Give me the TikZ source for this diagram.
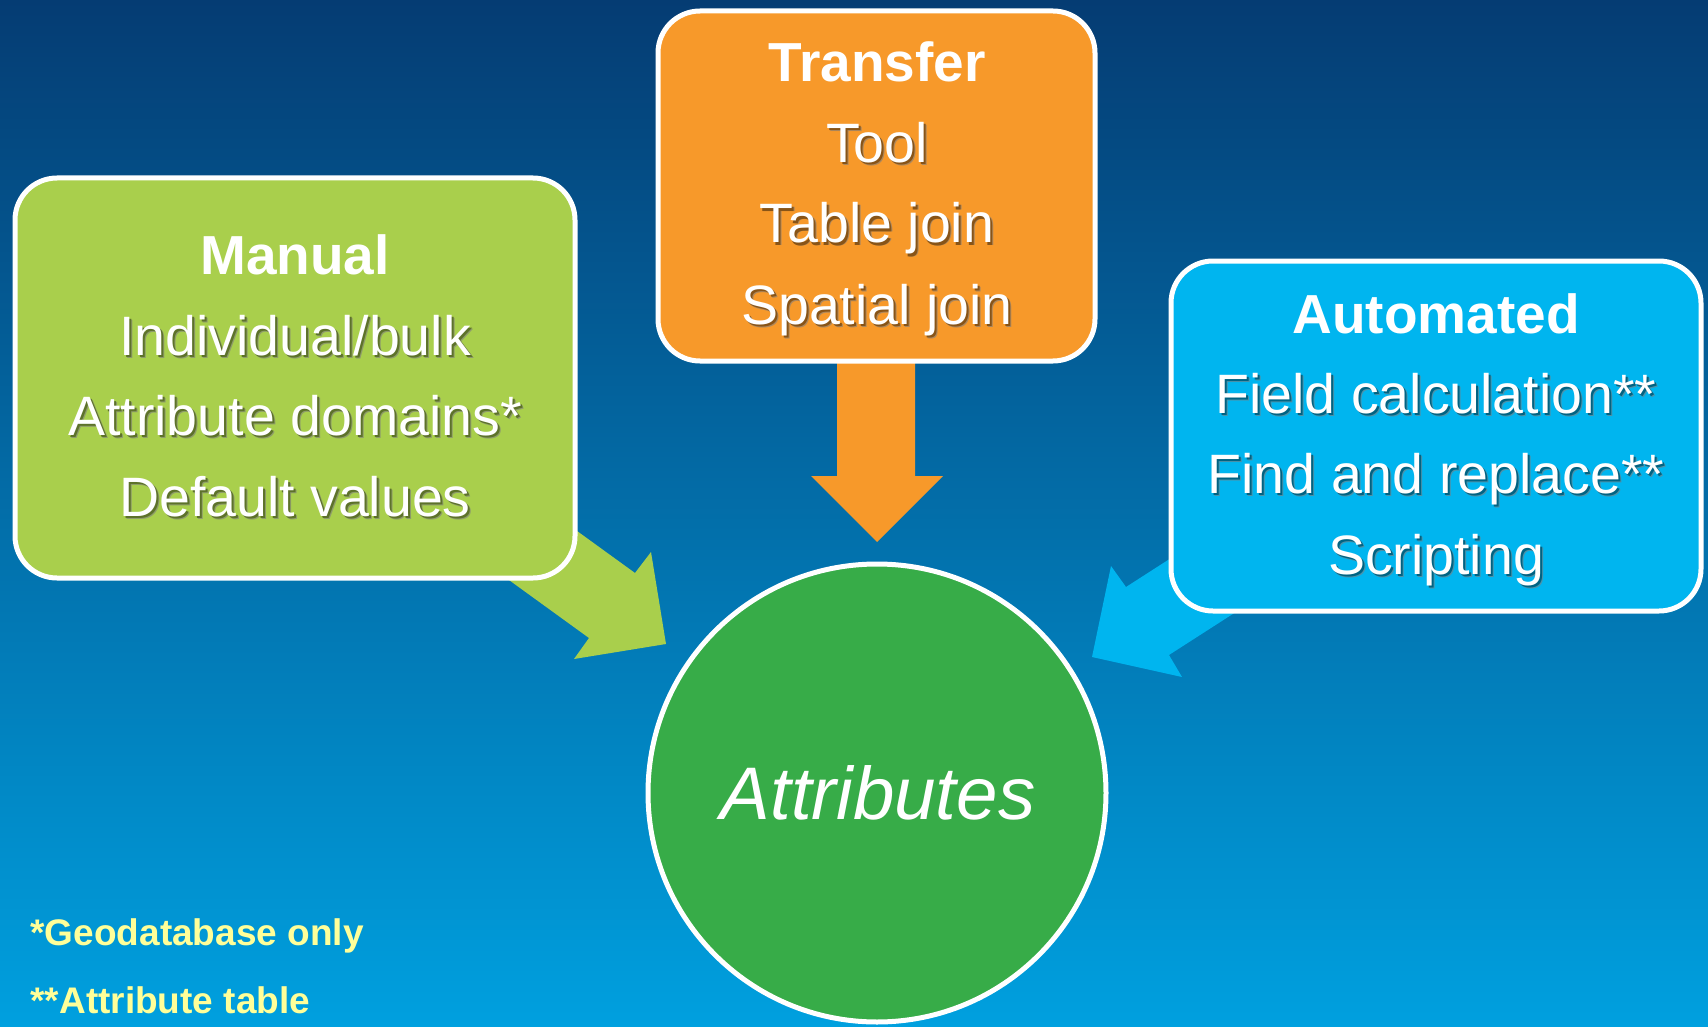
\documentclass[tikz,border=0pt]{standalone}
\usepackage{fontspec}
\setmainfont{Liberation Sans}
\definecolor{bgtop}{HTML}{053C73}
\definecolor{bgmid}{HTML}{0466AA}
\definecolor{bgbot}{HTML}{00A0DF}
\definecolor{manualgreen}{HTML}{A9CF4C}
\definecolor{transferorange}{HTML}{F7992A}
\definecolor{autocyan}{HTML}{00B5EF}
\definecolor{attrgreen}{HTML}{37AC48}
\definecolor{notecol}{HTML}{FFFF99}
\newcommand{\shd}[2]{\makebox[0pt][l]{\hspace{3pt}\raisebox{-3pt}{\color{#1!70}#2}}\makebox[0pt][l]{\hspace{2pt}\raisebox{-2pt}{\color{#1}#2}}#2}
\begin{document}
\begin{tikzpicture}[x=1pt,y=-1pt,
  box/.style={draw=white,line width=5pt,rounded corners=42pt,inner sep=0pt},
  boxtitle/.style={text=white,anchor=base,font=\fontsize{55}{60}\selectfont\bfseries},
  boxitem/.style={text=white,anchor=base,font=\fontsize{55.5}{60}\selectfont},
  notetext/.style={text=notecol,anchor=base west,font=\fontsize{37}{44}\selectfont\bfseries}]
\useasboundingbox (0,0) rectangle (1708,1027);
\shade[top color=bgtop,middle color=bgmid,bottom color=bgbot] (0,0) rectangle (1708,1027);

% arrows
\fill[manualgreen] (497,473) -- (635,573) -- (651,552) -- (666,644) -- (574,659) -- (589,638) -- (451,538) -- cycle;
\fill[transferorange] (837,330) -- (837,476) -- (811,476) -- (877,542) -- (943,476) -- (915,476) -- (915,330) -- cycle;
\fill[autocyan] (1252,506) -- (1126,587) -- (1111,566) -- (1092,657) -- (1182,677) -- (1169,655) -- (1295,574) -- cycle;

% boxes
\node[box,fill=manualgreen,minimum width=560pt,minimum height=400pt] (manual) at (295,378) {};
\node[box,fill=transferorange,minimum width=437pt,minimum height=350pt] (transfer) at (876.5,186) {};
\node[box,fill=autocyan,minimum width=530pt,minimum height=350pt] (automated) at (1436,436) {};
\node[circle,draw=white,line width=5pt,fill=attrgreen,minimum size=458pt,inner sep=0pt] (attr) at (877,793) {};

\node[boxtitle] (m0) at (295,274) {Manual};
\node[boxitem] (m1) at (295,355) {\shd{manualgreen!55!black}{Individual/bulk}};
\node[boxitem] (m2) at (295,435) {\shd{manualgreen!55!black}{Attribute domains*}};
\node[boxitem] (m3) at (295,516) {\shd{manualgreen!55!black}{Default values}};

\node[boxtitle] (t0) at (877,82) {Transfer};
\node[boxitem] (t1) at (877,163) {\shd{transferorange!55!black}{Tool}};
\node[boxitem] (t2) at (877,243) {\shd{transferorange!55!black}{Table join}};
\node[boxitem] (t3) at (877,324) {\shd{transferorange!55!black}{Spatial join}};

\node[boxtitle] (a0) at (1436,333) {Automated};
\node[boxitem] (a1) at (1436,413) {\shd{autocyan!55!black}{Field calculation**}};
\node[boxitem] (a2) at (1436,493) {\shd{autocyan!55!black}{Find and replace**}};
\node[boxitem] (a3) at (1436,574) {\shd{autocyan!55!black}{Scripting}};

\node[text=white,anchor=base,font=\fontsize{74.5}{80}\selectfont\itshape] (attrtext) at (878,819) {Attributes};

\node[notetext] (note1) at (27,945) {*Geodatabase only};
\node[notetext] (note2) at (27,1013) {**Attribute table};
\end{tikzpicture}
\end{document}
